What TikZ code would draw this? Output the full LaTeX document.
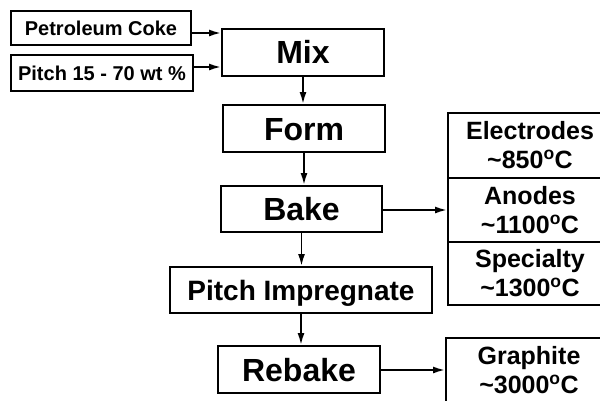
\documentclass[tikz,border=0pt]{standalone}
\usepackage{fontspec}
\setmainfont{Liberation Sans}
\usetikzlibrary{arrows.meta}

\begin{document}
\begin{tikzpicture}[x=1pt,y=-1pt,
    box/.style={draw,line width=2pt,inner sep=0pt,font=\bfseries},
    feed/.style={box,font=\fontsize{20}{22}\selectfont\bfseries,text height=14pt,text depth=0pt},
    stage/.style={box,minimum width=162pt,minimum height=47pt,font=\fontsize{32}{34}\selectfont\bfseries,text height=23pt,text depth=0pt},
    temp/.style={box,minimum width=164pt,align=center,font=\fontsize{25}{29}\selectfont\bfseries},
    flow/.style={line width=1.8pt,-{Latex[length=12pt,width=7pt]}}]
        \fill[white] (0,0) rectangle (600,400);
        \useasboundingbox (0,0) rectangle (600,400);
        % feeds
        \node[feed,minimum width=180pt,minimum height=34pt] (coke) at (101,28) {Petroleum Coke};
        \node[feed,minimum width=182pt,minimum height=36pt] (pitch) at (102,73) {Pitch 15 - 70 wt \%};
        % process chain
        \node[stage] (mix) at (303,52) {Mix};
        \node[stage] (form) at (304,128.5) {Form};
        \node[stage,minimum width=161pt,minimum height=46pt] (bake) at (301.5,209) {Bake};
        \node[stage,minimum width=262pt,minimum height=46pt,font=\fontsize{28}{30}\selectfont\bfseries,text height=20pt] (imp) at (301,290) {Pitch Impregnate};
        \node[stage] (rebake) at (299,369.5) {Rebake};
        % products
        \node[temp,minimum height=65pt] (electrodes) at (530,145.5) {Electrodes\\\textasciitilde850\textsuperscript{o}C};
        \node[temp,minimum height=64pt] (anodes) at (530,210) {Anodes\\\textasciitilde1100\textsuperscript{o}C};
        \node[temp,minimum height=63pt] (specialty) at (530,273.5) {Specialty\\\textasciitilde1300\textsuperscript{o}C};
        \node[temp,minimum width=166pt,minimum height=64pt] (graphite) at (529,370) {Graphite\\\textasciitilde3000\textsuperscript{o}C};
        % arrows
        \draw[flow] ([yshift=-5pt]coke.east) -- ([yshift=-5pt]coke.east -| mix.west);
        \draw[flow] ([yshift=6pt]pitch.east) -- ([yshift=6pt]pitch.east -| mix.west);
        \draw[flow] (mix.south) -- (mix.south |- form.north);
        \draw[flow] (form.south) -- (form.south |- bake.north);
        \draw[flow] (bake.south) -- (bake.south |- imp.north);
        \draw[flow] (imp.south) -- (imp.south |- rebake.north);
        \draw[flow] (bake.east |- anodes.west) -- (anodes.west);
        \draw[flow] (rebake.east |- graphite.west) -- (graphite.west);
      \end{tikzpicture}
\end{document}
